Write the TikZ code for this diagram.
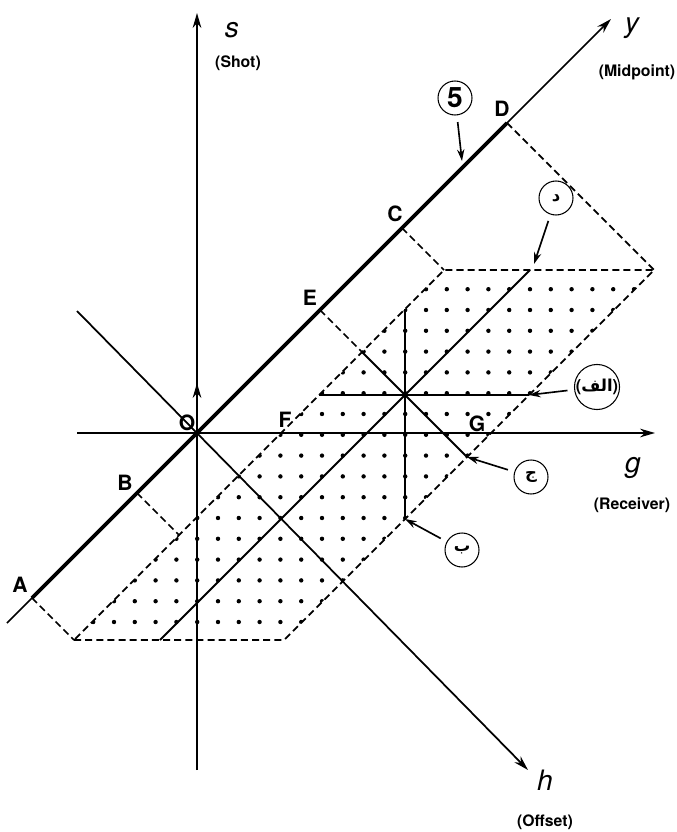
\documentclass[tikz,border=0pt]{standalone}
\usepackage{fontspec}
\setmainfont{TeX Gyre Heros}
\newfontfamily\arabicfont[Script=Arabic]{DejaVu Sans}
\TeXXeTstate=1
\usetikzlibrary{arrows.meta}

\begin{document}
\begin{tikzpicture}[
  x=0.3mm, y=-0.3mm,
  axis/.style={line width=1.5pt,-{Stealth[length=4.5mm,width=2.6mm]}},
  edgeline/.style={line width=1.5pt,dash pattern=on 6pt off 3.5pt},
  solidline/.style={line width=1.6pt},
  pointer/.style={line width=1.4pt,shorten <=2mm,-{Stealth[length=3.5mm,width=2.2mm]}},
  ptlabel/.style={font=\fontsize{18}{20}\selectfont\bfseries,inner sep=0pt},
  axlabel/.style={font=\fontsize{24}{26}\selectfont\itshape,inner sep=0pt},
  axname/.style={font=\fontsize{13.5}{15}\selectfont\bfseries,inner sep=0pt},
  circlabel/.style={circle,draw,line width=0.9pt,minimum size=1.02cm,inner sep=0pt,font=\arabicfont\bfseries\fontsize{14}{16}\selectfont}
]
\useasboundingbox (0,0) rectangle (677,832);

% points on the midpoint axis
\coordinate (O) at (197,433);
\coordinate (A) at (32,598);
\coordinate (B) at (137,493);
\coordinate (E) at (320,310);
\coordinate (C) at (402,228);
\coordinate (D) at (507,123);
% corners of the dotted area
\coordinate (botleft) at (74,640);
\coordinate (botright) at (284,640);
\coordinate (topright) at (654,270);
\coordinate (topleft) at (444,270);
\coordinate (Bfoot) at (179,535);
\coordinate (Efoot) at (362,352);
\coordinate (Eend) at (467,457);
\coordinate (ctr) at (405,395);
\coordinate (vtop) at (405,309);
\coordinate (vbot) at (405,519);
\coordinate (hleft) at (319,395);
\coordinate (hright) at (529,395);
\coordinate (mbot) at (160,640);
\coordinate (mtop) at (530,270);
\coordinate (F) at (281,433);
\coordinate (G) at (491,433);
% axis ends
\coordinate (sbot) at (197,770);
\coordinate (stop) at (197,13);
\coordinate (smid) at (197,383);
\coordinate (gleft) at (77,433);
\coordinate (gright) at (655,433);
\coordinate (ybot) at (7,623);
\coordinate (ytop) at (611,19);
\coordinate (hstart) at (77,311);
\coordinate (hend) at (528,770);

% dots
\begin{scope}
  \clip (botleft) -- (botright) -- (topright) -- (topleft) -- cycle;
  \foreach \i in {-7,...,21}
    \foreach \j in {-11,...,5}
      \fill ({218+20.8*\i},{518+20.8*\j}) circle[radius=2.2];
\end{scope}

% axes
\draw[axis] (sbot) -- (stop);
\draw[axis] (O) -- (smid);
\draw[axis] (gleft) -- (gright);
\draw[axis] (ybot) -- (ytop);
\draw[axis] (hstart) -- (hend);
\draw[line width=3.2pt] (A) -- (D);

% dotted area
\draw[edgeline] (botleft) -- (botright) -- (topright) -- (topleft) -- cycle;
\draw[edgeline] (A) -- (botleft);
\draw[edgeline] (B) -- (Bfoot);
\draw[edgeline] (E) -- (Efoot);
\draw[edgeline] (C) -- (topleft);
\draw[edgeline] (D) -- (topright);
\draw[solidline] (Efoot) -- (Eend);
\draw[solidline] (vtop) -- (vbot);
\draw[solidline] (hleft) -- (hright);
\draw[solidline] (mbot) -- (mtop);

% point labels
\node[ptlabel] (Alab) at (20,585) {A};
\node[ptlabel] (Blab) at (125,483) {B};
\node[ptlabel] (Olab) at (187,423) {O};
\node[ptlabel] (Elab) at (310,298) {E};
\node[ptlabel] (Clab) at (395,214) {C};
\node[ptlabel] (Dlab) at (502,109) {D};
\node[ptlabel] (Flab) at (285,420) {F};
\node[ptlabel] (Glab) at (477,424) {G};

% axis labels
\node[axlabel] (slab) at (232,30) {s};
\node[axname] (sname) at (238,63) {(Shot)};
\node[axlabel] (ylab) at (632,28) {y};
\node[axname] (yname) at (637,72) {(Midpoint)};
\node[axlabel] (glab) at (633,468) {g};
\node[axname] (gname) at (632,505) {(Receiver)};
\node[axlabel] (hlab) at (545,780) {h};
\node[axname] (hname) at (545,822) {(Offset)};

% callouts
\node[circlabel,font=\fontsize{24}{26}\selectfont\bfseries] (five) at (455,98) {5};
\coordinate (p5) at (462,161);
\draw[pointer] (five) -- (p5);
\node[circlabel] (dal) at (556,198) {\beginR د\endR};
\coordinate (pdal) at (534,264);
\draw[pointer] (dal) -- (pdal);
\node[circlabel] (alef) at (597,387) {{\normalfont\bfseries(}\beginR الف\endR{\normalfont\bfseries)}};
\draw[pointer] (alef) -- (hright);
\node[circlabel] (jim) at (531,477) {\beginR ج\endR};
\draw[pointer] (jim) -- (Eend);
\node[circlabel] (be) at (462,550) {\beginR ب\endR};
\draw[pointer] (be) -- (vbot);
\end{tikzpicture}
\end{document}
